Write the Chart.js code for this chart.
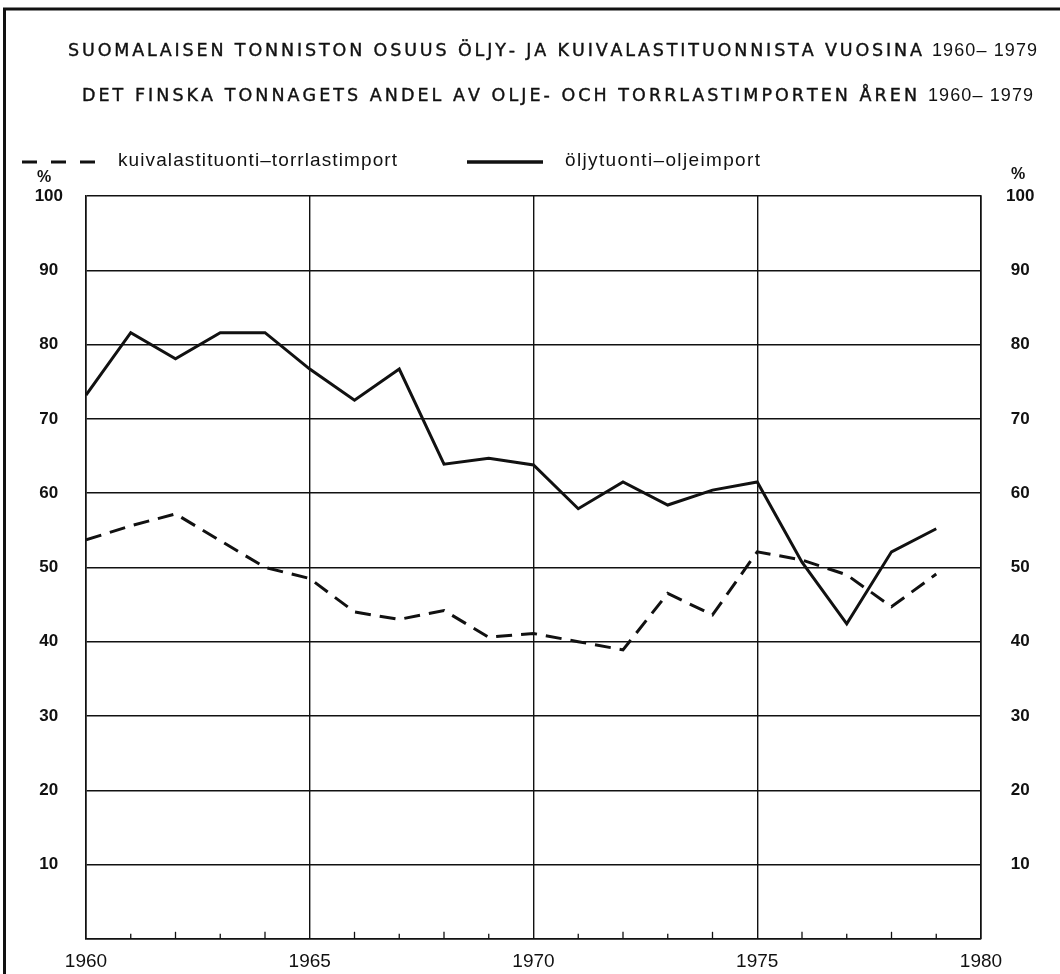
<!DOCTYPE html>
<html>
<head>
<meta charset="utf-8">
<script src="https://cdn.jsdelivr.net/npm/chart.js@4/dist/chart.umd.min.js"></script>
<style>
  html, body { margin: 0; padding: 0; background: #ffffff; }
  #wrap { width: 1060px; height: 974px; position: relative; }
</style>
</head>
<body>
<div id="wrap"><canvas id="c" width="1060" height="974"></canvas></div>
<script>
// ---- data ----
const years = [1960,1961,1962,1963,1964,1965,1966,1967,1968,1969,1970,1971,1972,1973,1974,1975,1976,1977,1978,1979];
const oilImport      = [73.2,81.6,78.1,81.6,81.6,76.7,72.5,76.7,63.9,64.7,63.8,57.9,61.5,58.4,60.4,61.5,50.7,42.4,52.1,55.2];
const dryCargoImport = [53.7,55.6,57.2,53.6,50.0,48.5,44.0,43.0,44.2,40.6,41.1,40.0,38.9,46.5,43.6,52.1,51.0,49.0,44.7,49.1];
const xTickLabels = [1960,1965,1970,1975,1980];
const yTickLabels = [10,20,30,40,50,60,70,80,90,100];
const seriesLabels = ['kuivalastituonti–torrlastimport', 'öljytuonti–oljeimport'];
const titleLines = [
  ['SUOMALAISEN TONNISTON OSUUS ÖLJY- JA KUIVALASTITUONNISTA VUOSINA', '1960– 1979'],
  ['DET FINSKA TONNAGETS ANDEL AV OLJE- OCH TORRLASTIMPORTEN ÅREN', '1960– 1979']
];

const INK = '#111111';

function drawFitted(ctx, text, x0, x1, y, strokeW) {
  const chars = Array.from(text);
  const widths = chars.map(ch => ctx.measureText(ch).width);
  const total = widths.reduce((a, b) => a + b, 0);
  const sp = chars.length > 1 ? ((x1 - x0) - total) / (chars.length - 1) : 0;
  let x = x0;
  ctx.textAlign = 'left';
  chars.forEach((ch, i) => {
    ctx.fillText(ch, x, y);
    if (strokeW) { ctx.lineWidth = strokeW; ctx.strokeText(ch, x, y); }
    x += widths[i] + sp;
  });
}

const decorPlugin = {
  id: 'decor',
  beforeDraw(chart) {
    const ctx = chart.ctx;
    ctx.save();
    ctx.fillStyle = '#ffffff';
    ctx.fillRect(0, 0, chart.width, chart.height);
    // page frame (left and top)
    ctx.strokeStyle = INK;
    ctx.lineWidth = 3;
    ctx.beginPath();
    ctx.moveTo(4.5, 974); ctx.lineTo(4.5, 9); ctx.lineTo(1060, 9);
    ctx.stroke();
    ctx.restore();
  },
  afterDraw(chart) {
    const ctx = chart.ctx;
    const xs = chart.scales.x;
    const area = chart.chartArea;
    ctx.save();
    ctx.fillStyle = INK;
    ctx.strokeStyle = INK;
    ctx.textBaseline = 'middle';

    // titles
    ctx.font = '17.5px "DejaVu Sans", sans-serif';
    drawFitted(ctx, titleLines[0][0], 68, 922, 51, 0.4);
    drawFitted(ctx, titleLines[1][0], 82, 917, 96, 0.4);
    ctx.font = '18px "Liberation Sans", Arial, sans-serif';
    drawFitted(ctx, titleLines[0][1], 932, 1037, 51);
    drawFitted(ctx, titleLines[1][1], 928, 1033, 96);

    // legend
    ctx.lineWidth = 3;
    ctx.setLineDash([15, 14]);
    ctx.beginPath(); ctx.moveTo(22, 162); ctx.lineTo(100, 162); ctx.stroke();
    ctx.setLineDash([]);
    ctx.lineWidth = 3.5;
    ctx.beginPath(); ctx.moveTo(467, 162); ctx.lineTo(543, 162); ctx.stroke();
    ctx.font = '19px "Liberation Sans", Arial, sans-serif';
    drawFitted(ctx, seriesLabels[0], 118, 397, 161);
    drawFitted(ctx, seriesLabels[1], 565, 760, 161);

    // % labels
    ctx.font = 'bold 16px "Liberation Sans", Arial, sans-serif';
    ctx.textAlign = 'center';
    ctx.fillText('%', 44, 178);
    ctx.fillText('%', 1018, 175);

    // minor year ticks, drawn inward from the x axis
    ctx.lineWidth = 1.3;
    for (const yr of years) {
      if (yr % 5 === 0) continue;
      const px = xs.getPixelForValue(yr);
      ctx.beginPath();
      ctx.moveTo(px, area.bottom);
      ctx.lineTo(px, area.bottom - (yr % 2 === 0 ? 7 : 5));
      ctx.stroke();
    }
    ctx.restore();
  }
};

const oilData = years.map((yr, i) => ({ x: yr, y: oilImport[i] }));
const dryData = years.map((yr, i) => ({ x: yr, y: dryCargoImport[i] }));

new Chart(document.getElementById('c'), {
  type: 'line',
  data: {
    datasets: [
      {
        label: seriesLabels[0],
        data: dryData,
        borderColor: INK,
        borderWidth: 3,
        borderDash: [16, 9],
        pointRadius: 0,
        tension: 0,
        fill: false,
        yAxisID: 'y'
      },
      {
        label: seriesLabels[1],
        data: oilData,
        borderColor: INK,
        borderWidth: 3,
        pointRadius: 0,
        tension: 0,
        fill: false,
        yAxisID: 'y'
      }
    ]
  },
  options: {
    responsive: false,
    animation: false,
    devicePixelRatio: 1,
    layout: { padding: { top: 196, left: 0, right: 0, bottom: 0 } },
    plugins: {
      legend: { display: false },
      title: { display: false },
      tooltip: { enabled: false }
    },
    scales: {
      x: {
        type: 'linear',
        min: 1960,
        max: 1980,
        afterBuildTicks(scale) { scale.ticks = xTickLabels.map(v => ({ value: v })); },
        afterFit(scale) { scale.height = 31; },
        border: { display: true, color: INK, width: 1.6 },
        grid: { color: INK, lineWidth: 1.4, drawTicks: false },
        ticks: {
          color: INK,
          padding: 12,
          font: { family: '"Liberation Sans", Arial, sans-serif', size: 19 },
          callback: v => String(v),
          maxRotation: 0
        }
      },
      y: {
        position: 'left',
        min: 0,
        max: 100,
        afterBuildTicks(scale) { scale.ticks = [0].concat(yTickLabels).map(v => ({ value: v })); },
        afterFit(scale) { scale.width = 86; },
        border: { display: true, color: INK, width: 1.6 },
        grid: { color: INK, lineWidth: 1.4, drawTicks: false },
        ticks: {
          color: INK,
          padding: 23,
          crossAlign: 'center',
          font: { family: '"Liberation Sans", Arial, sans-serif', size: 17, weight: 'bold' },
          callback: v => (yTickLabels.includes(v) ? String(v) : '')
        }
      },
      y2: {
        position: 'right',
        min: 0,
        max: 100,
        afterBuildTicks(scale) { scale.ticks = [0].concat(yTickLabels).map(v => ({ value: v })); },
        afterFit(scale) { scale.width = 79; },
        border: { display: true, color: INK, width: 1.6 },
        grid: { display: false, drawTicks: false },
        ticks: {
          color: INK,
          padding: 25,
          crossAlign: 'center',
          font: { family: '"Liberation Sans", Arial, sans-serif', size: 17, weight: 'bold' },
          callback: v => (yTickLabels.includes(v) ? String(v) : '')
        }
      }
    }
  },
  plugins: [decorPlugin]
});
</script>
</body>
</html>
